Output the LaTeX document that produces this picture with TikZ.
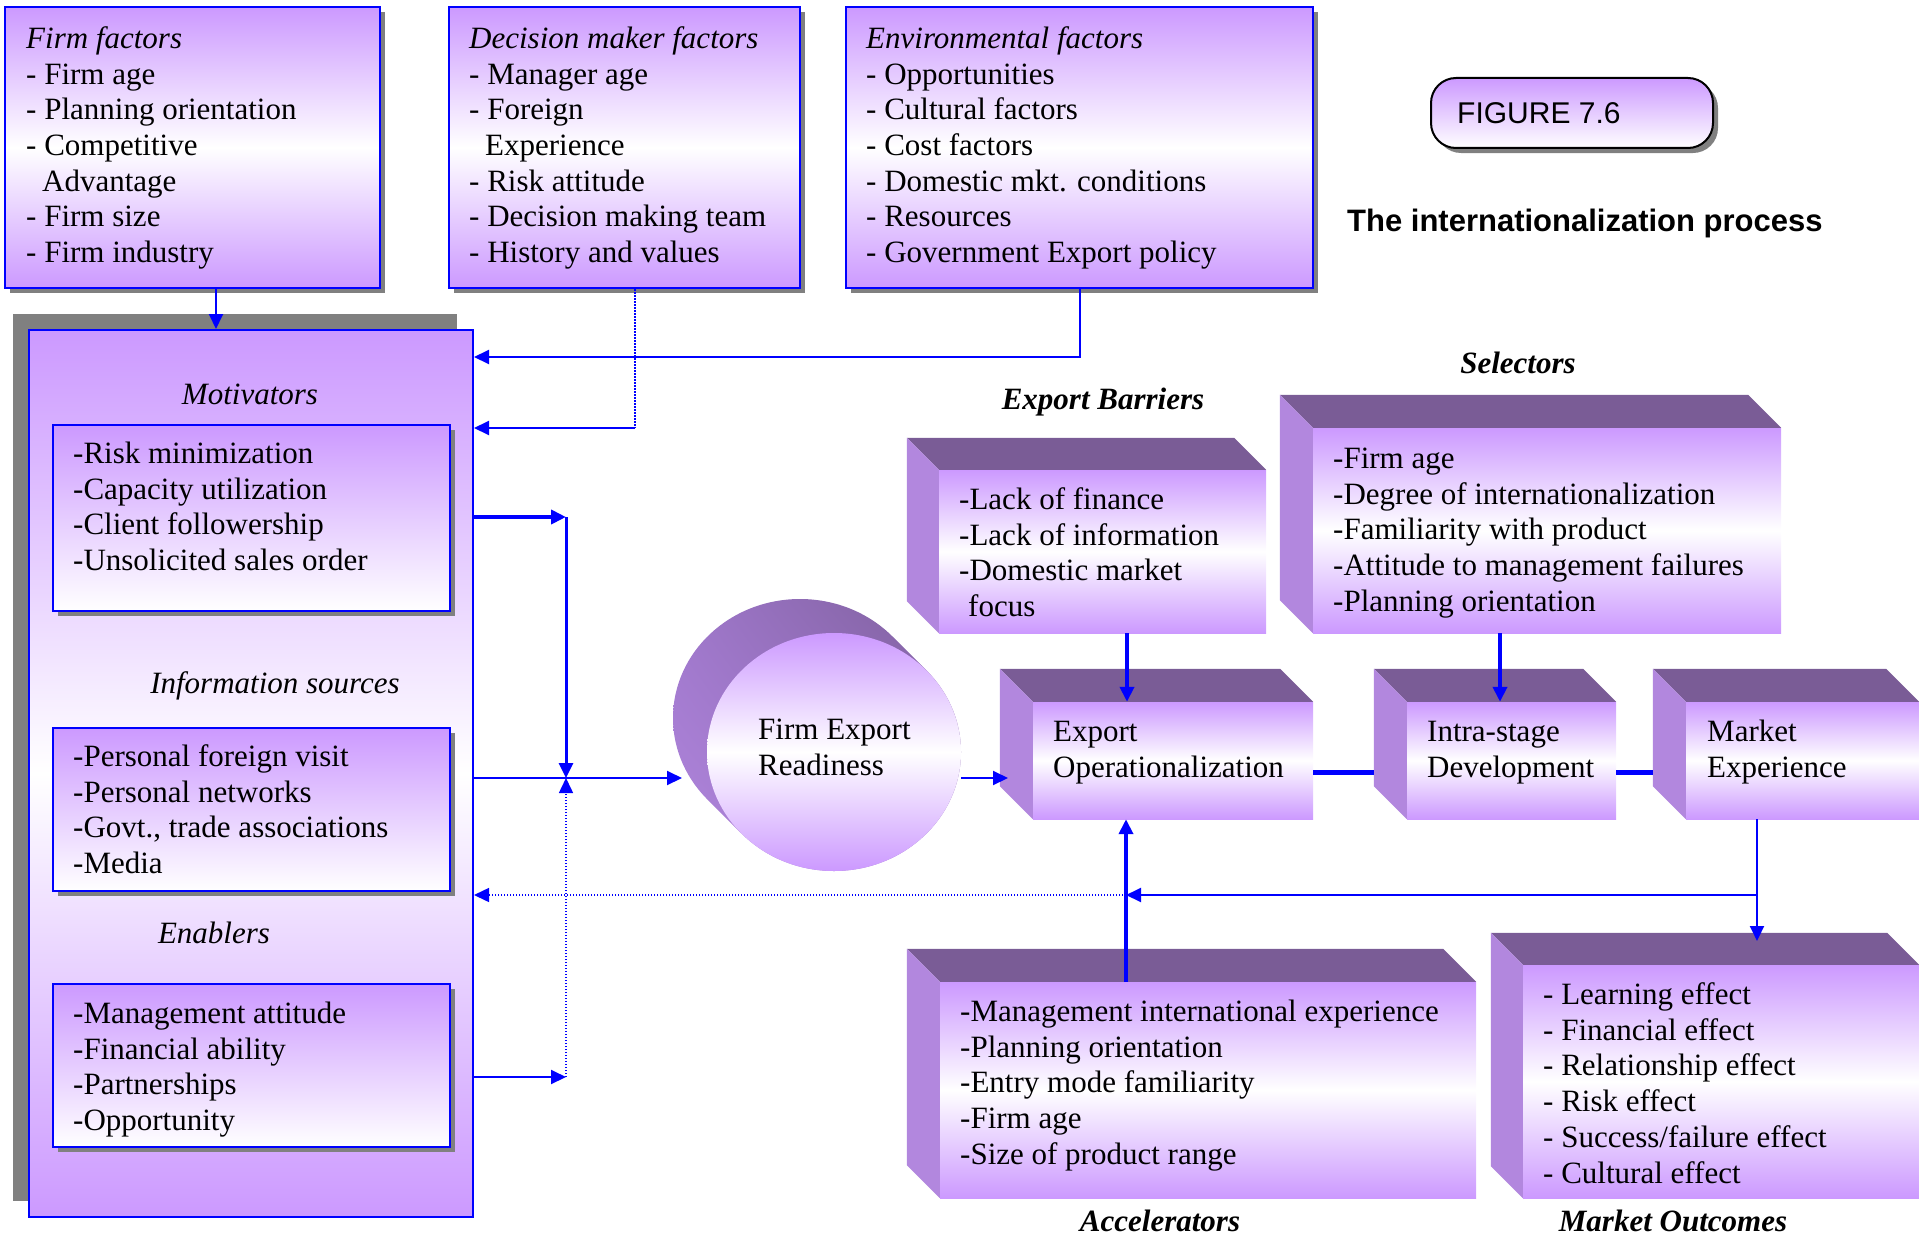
\documentclass[tikz,border=0pt]{standalone}
\usepackage{fontspec}
\setmainfont{Liberation Serif}
\setsansfont{Liberation Sans}
\usetikzlibrary{arrows.meta,calc,shadows,shadings,shapes.geometric}

\definecolor{lav}{RGB}{204,153,255}
\definecolor{topface}{RGB}{122,92,150}
\definecolor{sideface}{RGB}{178,135,222}
\definecolor{sidemid}{RGB}{160,120,205}
\definecolor{shadowgray}{RGB}{128,128,128}
\definecolor{linkblue}{RGB}{0,0,255}

% a block of left-aligned lines whose base is the first line
\newcommand\lines[1]{\begin{tabular}[t]{@{}l@{}}#1\end{tabular}}

% top and left faces of an extruded box drawn behind a front-face node
\newcommand\depthfaces[2]{%
  \fill[topface] (#1.north west) -- ++(-#2,-#2) -- ($(#1.north east)+(-#2,-#2)$) -- (#1.north east) -- cycle;
  \fill[sideface] (#1.north west) -- ++(-#2,-#2) -- ($(#1.south west)+(-#2,-#2)$) -- (#1.south west) -- cycle;}

\tikzset{
  flatshadow/.style={drop shadow={shadow xshift=5pt,shadow yshift=-5pt,fill=shadowgray,opacity=1}},
  panel/.style={draw=linkblue, line width=2pt, inner sep=0pt, top color=lav, bottom color=lav, middle color=white, flatshadow},
  subpanel/.style={draw=linkblue, line width=2pt, inner sep=0pt, top color=lav, bottom color=white, flatshadow},
  frontface/.style={inner sep=0pt, top color=lav, bottom color=lav, middle color=white},
  txt/.style={anchor=base west, inner sep=0pt, yshift=-1.5pt},
  head/.style={anchor=base, inner sep=0pt, yshift=-1.5pt, font=\fontsize{31}{35.7}\selectfont\itshape},
  bhead/.style={anchor=base, inner sep=0pt, yshift=-1.5pt, font=\fontsize{31}{35.7}\selectfont\bfseries\itshape},
  conn/.style={draw=linkblue, line width=2pt, -{Triangle[length=15pt,width=14pt]}},
  boldlink/.style={conn, line width=4pt},
  dotlink/.style={draw=linkblue, line width=1.5pt, dash pattern=on 1.5pt off 1.5pt},
  barlink/.style={draw=linkblue, line width=5pt},
}

\begin{document}
\begin{tikzpicture}[x=1pt, y=-1pt, font=\fontsize{31}{35.7}\selectfont]
\useasboundingbox (0,0) rectangle (1919,1236);
\clip (0,0) rectangle (1919,1236);

% ---- factor panels along the top ----
\node[panel, minimum width=375pt, minimum height=281pt] (ff) at (192.5,147.5) {};
\node[panel, minimum width=351pt, minimum height=281pt] (dm) at (624.5,147.5) {};
\node[panel, minimum width=467pt, minimum height=281pt] (ef) at (1079.5,147.5) {};

\node[txt] (fftext) at (26,47) {\lines{\textit{Firm factors}\\- Firm age\\- Planning orientation\\- Competitive\\\hspace*{16pt}Advantage\\- Firm size\\- Firm industry}};
\node[txt] (dmtext) at (469,47) {\lines{\textit{Decision maker factors}\\- Manager age\\- Foreign\\\hspace*{16pt}Experience\\- Risk attitude\\- Decision making team\\- History and values}};
\node[txt] (eftext) at (866,47) {\lines{\textit{Environmental factors}\\- Opportunities\\- Cultural factors\\- Cost factors\\- Domestic mkt. conditions\\- Resources\\- Government Export policy}};

% ---- figure label ----
\node[draw=black, line width=2pt, rounded corners=25pt, inner sep=0pt, top color=lav, bottom color=white,
      minimum width=282pt, minimum height=70pt,
      drop shadow={shadow xshift=5pt,shadow yshift=-5pt,fill=shadowgray,opacity=1}] (fig) at (1572,113) {};
\node[txt, font=\fontsize{30}{34}\selectfont\sffamily] (figtext) at (1457,122) {FIGURE 7.6};
\node[txt, font=\fontsize{31}{35}\selectfont\sffamily\bfseries] (title) at (1347,230) {The internationalization process};

% ---- left column: motivators, information sources, enablers ----
\node[draw=linkblue, line width=2pt, inner sep=0pt, top color=lav, bottom color=lav, middle color=white,
      minimum width=444pt, minimum height=887pt,
      drop shadow={shadow xshift=-16pt,shadow yshift=16pt,fill=shadowgray,opacity=1}] (big) at (251,773.5) {};

\node[head] (mothead) at (250,403) {Motivators};
\node[subpanel, minimum width=397pt, minimum height=186pt] (mot) at (251.5,518) {};
\node[txt] (mottext) at (73,462) {\lines{-Risk minimization\\-Capacity utilization\\-Client followership\\-Unsolicited sales order}};

\node[head] (infhead) at (275,692) {Information sources};
\node[subpanel, minimum width=397pt, minimum height=163pt] (inf) at (251.5,809.5) {};
\node[txt] (inftext) at (73,765) {\lines{-Personal foreign visit\\-Personal networks\\-Govt., trade associations\\-Media}};

\node[head] (enahead) at (214,942) {Enablers};
\node[subpanel, minimum width=397pt, minimum height=163pt] (ena) at (251.5,1065.5) {};
\node[txt] (enatext) at (73,1022) {\lines{-Management attitude\\-Financial ability\\-Partnerships\\-Opportunity}};

% ---- firm export readiness cylinder ----
\begin{scope}
  \clip foreach \i in {0,...,34} {(834-\i,752-\i) ellipse [x radius=127, y radius=119]};
  \shade[upper left=sidemid, upper right=topface, lower left=sideface, lower right=sidemid] (660,590) rectangle (975,880);
\end{scope}
\node[ellipse, frontface, minimum width=254pt, minimum height=238pt] (fer) at (834,752) {};
\node[txt] (fertext) at (758,738) {\lines{Firm Export\\Readiness}};

% ---- extruded boxes ----
\node[frontface, minimum width=327pt, minimum height=163pt] (eb) at (1102.5,551.5) {};
\depthfaces{eb}{32}
\node[frontface, minimum width=468pt, minimum height=205pt] (sel) at (1547,530.5) {};
\depthfaces{sel}{33}
\node[frontface, minimum width=280pt, minimum height=117pt] (eo) at (1173,760.5) {};
\depthfaces{eo}{33}
\node[frontface, minimum width=209pt, minimum height=117pt] (isd) at (1511.5,760.5) {};
\depthfaces{isd}{33}
\node[frontface, minimum width=233pt, minimum height=117pt] (me) at (1802.5,760.5) {};
\depthfaces{me}{33}
\node[frontface, minimum width=536pt, minimum height=216pt] (acc) at (1208,1090) {};
\depthfaces{acc}{33}
\node[frontface, minimum width=396pt, minimum height=233pt] (mkt) at (1721,1081.5) {};
\depthfaces{mkt}{32}

\node[bhead] (ebhead) at (1103,408) {Export Barriers};
\node[txt] (ebtext) at (959,508) {\lines{-Lack of finance\\-Lack of information\\-Domestic market\\\hspace*{9pt}focus}};
\node[bhead] (selhead) at (1518,372) {Selectors};
\node[txt] (seltext) at (1333,467) {\lines{-Firm age\\-Degree of internationalization\\-Familiarity with product\\-Attitude to management failures\\-Planning orientation}};
\node[txt] (eotext) at (1053,740) {\lines{Export\\Operationalization}};
\node[txt] (isdtext) at (1427,740) {\lines{Intra-stage\\Development}};
\node[txt] (metext) at (1707,740) {\lines{Market\\Experience}};
\node[txt] (acctext) at (960,1020) {\lines{-Management international experience\\-Planning orientation\\-Entry mode familiarity\\-Firm age\\-Size of product range}};
\node[bhead] (acchead) at (1160,1230) {Accelerators};
\node[txt] (mkttext) at (1543,1003) {\lines{- Learning effect\\- Financial effect\\- Relationship effect\\- Risk effect\\- Success/failure effect\\- Cultural effect}};
\node[bhead] (mkthead) at (1673,1230) {Market Outcomes};

% ---- connectors ----
\coordinate (kf) at (216,0);
\draw[conn] (ff.south -| kf) -- (big.north -| kf);

\coordinate (kd) at (635,428);
\draw[dotlink] (dm.south -| kd) -- (kd);
\draw[conn] (kd) -- (big.east |- kd);

\coordinate (ke) at (1080,357);
\draw[conn] (ef.south -| ke) -- (ke) -- (big.east |- ke);

\coordinate (km) at (566,517);
\coordinate (kj) at (566,778);
\coordinate (kn) at (566,1077);
\coordinate (kr) at (682,778);
\draw[boldlink] (big.east |- km) -- (km);
\draw[conn, line width=3pt] (km) -- (kj);
\draw[conn] (big.east |- kj) -- (kr);
\draw[conn] (big.east |- kn) -- (kn);
\draw[dotlink, -{Triangle[length=15pt,width=14pt]}] (kn) -- (kj);

\coordinate (kg) at (1008,778);
\draw[conn] (fer.east |- kg) -- (kg);

\coordinate (kx) at (1127,0);
\draw[boldlink] (eb.south -| kx) -- (eo.north -| kx);
\coordinate (ky) at (1500,0);
\draw[boldlink] (sel.south -| ky) -- (isd.north -| ky);

\coordinate (kl) at (0,772);
\draw[barlink] (eo.east |- kl) -- ($(isd.west |- kl)+(-33,0)$);
\draw[barlink] (isd.east |- kl) -- ($(me.west |- kl)+(-33,0)$);

\coordinate (kb) at (1126,895);
\coordinate (kv) at (1757,941);
\draw[conn] (me.south -| kv) -- (kv);
\draw[conn] (kv |- kb) -- (kb);
\draw[dotlink, -{Triangle[length=15pt,width=14pt]}] (kb) -- (big.east |- kb);
\draw[boldlink] (acc.north -| kb) -- (eo.south -| kb);

\end{tikzpicture}
\end{document}
